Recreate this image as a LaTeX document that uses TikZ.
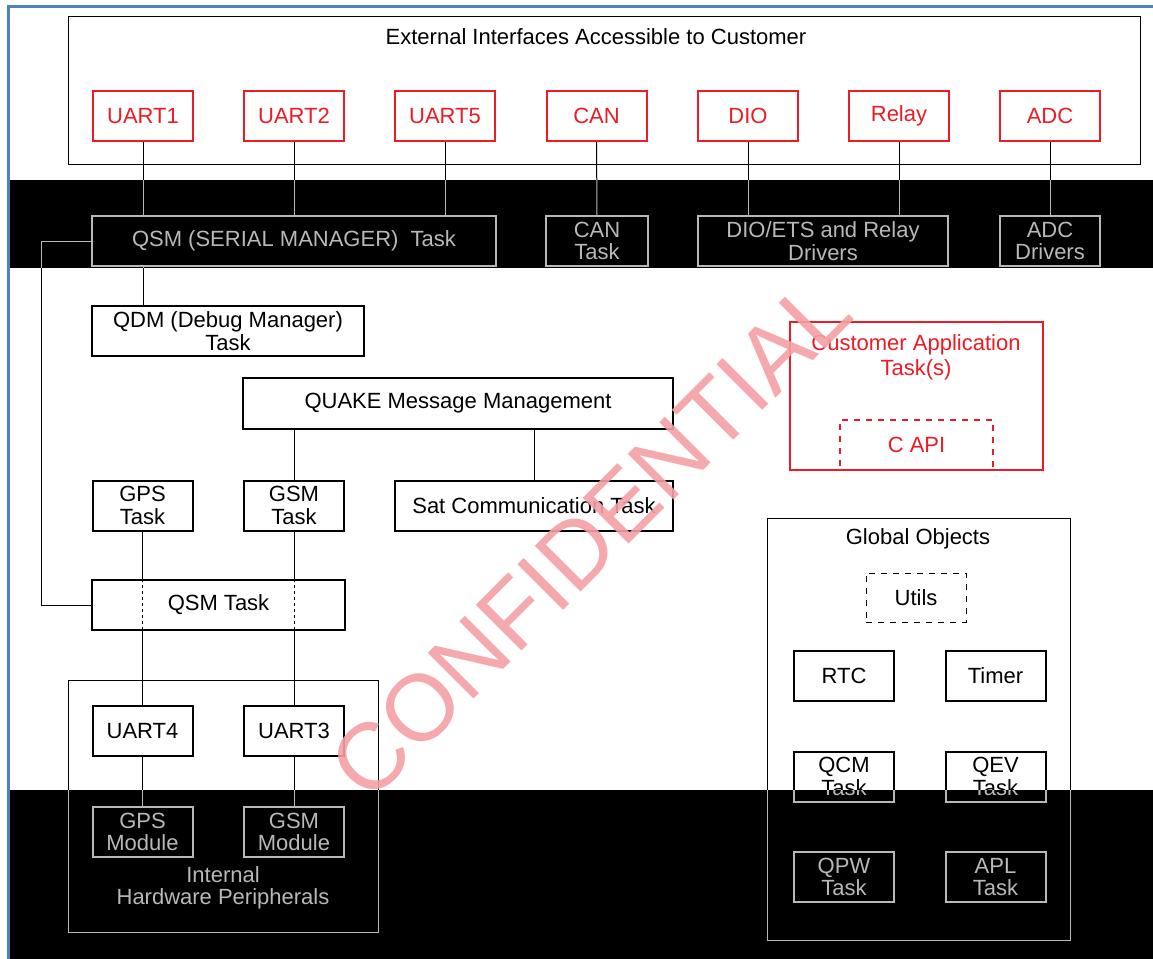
\documentclass[tikz,border=0pt]{standalone}
\usepackage{fontspec}
\setmainfont{Liberation Sans}
\usepackage{tikz}
\usetikzlibrary{positioning}
\definecolor{alertred}{HTML}{ED1C24}
\definecolor{frameblue}{HTML}{4F81BD}
\definecolor{stamp}{HTML}{F4A0A3}
\colorlet{ink}{black}

% Contenido del diagrama (se dibuja dos veces: normal y sobre las bandas negras)
\newcommand{\drawarch}{%
    % 1. Interfaces externas
    \node[group, minimum width=536pt, minimum height=74pt] (extif) at (604,90) {};
    \node[label] (exttitle) at (596,37) {External Interfaces Accessible to Customer};
    \node[port] (uart1) at (143,116) {UART1};
    \node[port] (uart2) at (294,116) {UART2};
    \node[port] (uart5) at (445,116) {UART5};
    \node[port] (can)   at (596.5,116) {CAN};
    \node[port] (dio)   at (748,116) {DIO};
    \node[port] (relay) at (899,116) {Relay};
    \node[port] (adc)   at (1050,116) {ADC};

    % 2. Drivers y tareas de interfaz
    \node[task, minimum width=202pt] (qsmser)  at (294,241) {QSM (SERIAL MANAGER)\ \ Task};
    \node[task, minimum width=51pt]  (cantask) at (597,241) {CAN\\Task};
    \node[task, minimum width=125pt] (diodrv)  at (823,241) {DIO/ETS and Relay\\Drivers};
    \node[task]                      (adcdrv)  at (1050,241) {ADC\\Drivers};

    % 3. Tareas internas
    \node[task, minimum width=136pt] (qdm)     at (228,331) {QDM (Debug Manager)\\Task};
    \node[task, minimum width=215pt, minimum height=25.5pt] (quake) at (458,403.5) {QUAKE Message Management};
    \node[task]                      (gpstask) at (142.5,505.5) {GPS\\Task};
    \node[task]                      (gsmtask) at (294,505.5) {GSM\\Task};
    \node[task, minimum width=139pt] (sattask) at (534,505.5) {Sat Communication Task};
    \node[task, minimum width=126.5pt] (qsmtask) at (218.5,605) {QSM Task};

    % 4. Periféricos internos
    \node[group, minimum width=155pt, minimum height=126pt] (hwbox) at (223,806) {};
    \node[task] (uart4)  at (142.5,731) {UART4};
    \node[task] (uart3)  at (294,731) {UART3};
    \node[task] (gpsmod) at (142.5,832) {GPS\\Module};
    \node[task] (gsmmod) at (294,832) {GSM\\Module};
    \node[label] (hwtitle) at (223,888) {Internal\\Hardware Peripherals};

    % 5. Aplicación del cliente
    \node[port, minimum width=126.5pt, minimum height=74pt] (custapp) at (916.5,396) {};
    \node[label, text=alertred, font=\fontsize{11}{12.5}\selectfont] (custtitle) at (916,357) {Customer Application\\Task(s)};
    \node[port, dashed, minimum width=76.5pt] (capi) at (916.5,445) {C API};

    % 6. Objetos globales
    \node[group, minimum width=151.5pt, minimum height=211pt] (globbox) at (918.5,729) {};
    \node[label] (globtitle) at (918,539) {Global Objects};
    \node[task, line width=0.5pt, dashed, minimum height=24.5pt] (utils) at (916,597.5) {Utils};
    \node[task] (rtc)   at (844,676)   {RTC};
    \node[task] (timer) at (995.5,676) {Timer};
    \node[task] (qcm)   at (844,776.5) {QCM\\Task};
    \node[task] (qev)   at (995.5,776.5) {QEV\\Task};
    \node[task] (qpw)   at (844,877)   {QPW\\Task};
    \node[task] (apl)   at (995.5,877) {APL\\Task};

    % 7. Conectores (interfaces -> drivers)
    \foreach \n in {uart1, uart2, uart5}
        \draw[link] (\n) -- (\n |- qsmser.north);
    \draw[link] (can) -- (cantask);
    \foreach \n in {dio, relay}
        \draw[link] (\n) -- (\n |- diodrv.north);
    \draw[link] (adc) -- (adcdrv);

    % 8. Conectores internos
    \draw[link] (qsmser.south -| uart1) -- (qdm.north -| uart1);
    \draw[link] (qsmser.west) -- ++(-50,0) |- (qsmtask.west);
    \foreach \n in {gsmtask, sattask}
        \draw[link] (quake.south -| \n) -- (\n.north);

    % 9. Conectores a través de QSM Task
    \foreach \t/\u/\m in {gpstask/uart4/gpsmod, gsmtask/uart3/gsmmod} {
        \draw[link] (\t.south) -- (qsmtask.north -| \t);
        \draw[through] (qsmtask.north -| \t) -- (qsmtask.south -| \t);
        \draw[link] (qsmtask.south -| \t) -- (\u.north);
        \draw[link] (\u.south) -- (\m.north);
    }
}

\begin{document}
\begin{tikzpicture}[
    x=0.5pt, y=-0.5pt,
    every node/.style={font=\fontsize{11}{11.3}\selectfont, inner sep=0pt},
    % Estilos de nodos
    port/.style={
        draw=alertred, text=alertred, line width=1pt,
        minimum width=50pt, minimum height=25pt, align=center
    },
    task/.style={
        draw=ink, text=ink, line width=1pt,
        minimum width=50pt, minimum height=25pt, align=center
    },
    group/.style={draw=ink, line width=0.5pt},
    label/.style={text=ink, align=center},
    % Estilo de los conectores
    link/.style={draw=ink, line width=0.5pt},
    through/.style={link, dash pattern=on 1.5pt off 1.5pt},
    band/.style={fill=black},
    watermark/.style={
        text=stamp, opacity=0.9, rotate=45,
        font=\fontsize{47}{47}\selectfont
    }
]
    \useasboundingbox (0,0) rectangle (1153,959);
    \fill[white] (0,0) rectangle (1153,959);

    % Diagrama
    \drawarch

    % Bandas negras
    \fill[band] (10,180) rectangle (1153,268);
    \fill[band] (10,790) rectangle (1153,959);
    \begin{scope}
        \clip (10,180) rectangle (1153,268) (10,790) rectangle (1153,959);
        \colorlet{ink}{white!72!black}
        \drawarch
    \end{scope}

    % Marco azul
    \coordinate (fbl) at (8.5,959);
    \coordinate (ftl) at (8.5,6.5);
    \coordinate (ftr) at (1153,6.5);
    \draw[frameblue, line width=1.6pt] (fbl) -- (ftl) -- (ftr);

    % Marca de agua
    \node[watermark] (conf) at (590,538) {CONFIDENTIAL};
\end{tikzpicture}
\end{document}
